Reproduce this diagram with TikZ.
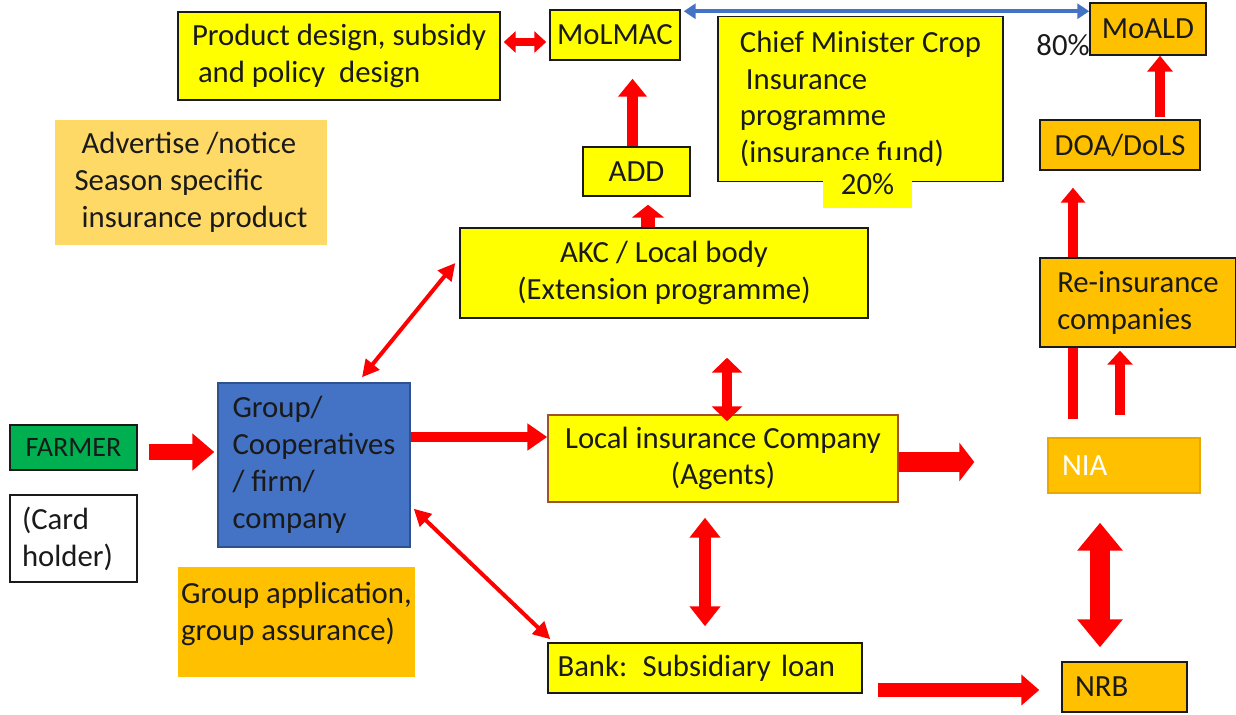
\documentclass[tikz,border=0pt]{standalone}
\usepackage{fontspec}
\setmainfont{Carlito}
\usetikzlibrary{positioning,calc,arrows.meta}

\definecolor{boxyellow}{HTML}{FFFF00}
\definecolor{boxorange}{HTML}{FFC000}
\definecolor{paleorange}{HTML}{FFD966}
\definecolor{boxblue}{HTML}{4472C4}
\definecolor{groupedge}{HTML}{2F528F}
\definecolor{boxgreen}{HTML}{00B050}
\definecolor{insedge}{HTML}{A0522D}
\definecolor{niaedge}{HTML}{E8A800}
\definecolor{flowred}{HTML}{FF0000}
\definecolor{linkblue}{HTML}{4472C4}
\definecolor{ink}{HTML}{1A1A1A}

\tikzset{
  box/.style={rectangle, inner sep=0pt, text=ink, line width=0.03cm,
    font=\fontsize{17.5}{21}\selectfont},
  ybox/.style={box, draw=ink, fill=boxyellow},
  obox/.style={box, draw=ink, fill=boxorange},
  thinflow/.style={flowred, line width=0.08cm,
    {Triangle[width=0.34cm,length=0.34cm]}-{Triangle[width=0.34cm,length=0.34cm]}}
}

\begin{document}
\begin{tikzpicture}[x=0.02cm, y=-0.02cm]
\useasboundingbox (0,0) rectangle (1236,715);

% top row
\node[ybox, minimum width=6.44cm, minimum height=1.76cm, align=left] (design) at (339,56) {Product design, subsidy\\\hspace*{0.12cm}and policy~~design};
\node[ybox, minimum width=2.6cm, minimum height=1cm] (MoLMAC) at (615,35) {MoLMAC};
\node[ybox, minimum width=5.7cm, minimum height=3.3cm, align=left] (CM) at (860.5,99) {Chief Minister Crop\\\hspace*{0.12cm}Insurance\\programme\\(insurance fund)};
\node[box, fill=boxyellow, minimum width=1.78cm, minimum height=0.96cm] (share20) at (867.5,184) {20\%};
\node[obox, minimum width=2.32cm, minimum height=1.04cm] (MoALD) at (1148,29) {MoALD};
\node[box] (share80) at (1063,45) {80\%};
\node[obox, minimum width=3.2cm, minimum height=1cm] (DOA) at (1120,145) {DOA/DoLS};
\node[ybox, minimum width=2.14cm, minimum height=0.98cm] (ADD) at (636.5,171.5) {ADD};
\node[box, fill=paleorange, minimum width=5.44cm, minimum height=2.5cm, align=left] (advert) at (191,182.5) {\hspace*{0.14cm}Advertise /notice\\Season specific\\\hspace*{0.14cm}insurance product};
\node[ybox, minimum width=8.16cm, minimum height=1.8cm, align=center] (AKC) at (664,273) {AKC / Local body\\(Extension programme)};

% middle row
\node[box, draw=groupedge, fill=boxblue, minimum width=3.84cm, minimum height=3.28cm, align=left] (group) at (314,465) {Group/\\Cooperatives\\/ firm/\\company};
\node[box, draw=ink, fill=boxgreen, minimum width=2.54cm, minimum height=0.9cm, font=\fontsize{16}{19}\selectfont] (farmer) at (73.5,447.5) {FARMER};
\node[box, draw=ink, fill=white, minimum width=2.54cm, minimum height=1.74cm, text width=2.06cm, align=left] (card) at (73.5,538.5) {(Card\\holder)};
\node[box, draw=insedge, fill=boxyellow, minimum width=7cm, minimum height=1.74cm, align=center] (insco) at (723,458.5) {Local insurance Company\\(Agents)};
\node[box, draw=niaedge, fill=boxorange, minimum width=3.04cm, minimum height=1.1cm, text width=2.48cm, align=left, text=white] (NIA) at (1124,465.5) {NIA};

% bottom row
\node[box, fill=boxorange, minimum width=4.74cm, minimum height=2.2cm, align=left] (grpapp) at (296.5,622) {Group application,\\group assurance)\\[-0.3cm]\mbox{}};
\node[ybox, minimum width=6.28cm, minimum height=1cm, text width=5.9cm, align=left] (bank) at (705,668) {Bank: Subsidiary loan};
\node[obox, minimum width=2.5cm, minimum height=1cm, text width=1.98cm, align=left] (NRB) at (1124.5,687) {NRB};

% long arrow runs behind the re-insurance box
\draw[flowred, line width=0.2cm, -{Triangle[width=0.48cm,length=0.3cm]}] ($(NIA.north)+(-51,-18)$) -- ($(DOA.south)+(-47,17)$);
\node[obox, minimum width=3.92cm, minimum height=1.78cm, align=left] (reins) at (1138,302.5) {Re-insurance\\companies};

% arrows
\draw[flowred, line width=0.16cm, {Triangle[width=0.42cm,length=0.24cm]}-{Triangle[width=0.42cm,length=0.24cm]}] ($(design.east |- MoLMAC.west)+(3,7)$) -- ($(MoLMAC.west)+(-3,7)$);
\draw[linkblue, line width=0.08cm, {Triangle[width=0.3cm,length=0.24cm]}-{Triangle[width=0.3cm,length=0.24cm]}] ($(MoLMAC.north east)+(3,2)$) -- ($(MoALD.west |- MoLMAC.north east)+(0,2)$);
\draw[flowred, line width=0.22cm, -{Triangle[width=0.56cm,length=0.36cm]}] ($(ADD.north)+(-4,0)$) -- ($(ADD.north |- MoLMAC.south)+(-4,18)$);
\draw[flowred, line width=0.28cm, -{Triangle[width=0.64cm,length=0.26cm]}] ($(AKC.north)+(-16,0)$) -- ($(AKC.north |- ADD.south)+(-16,8)$);
\draw[thinflow] ($(group.north)+(48,-5)$) -- ($(AKC.west)+(-4,-10)$);
\draw[flowred, line width=0.32cm, -{Triangle[width=0.72cm,length=0.44cm]}] ($(farmer.east)+(11,4.5)$) -- ($(farmer.east -| group.west)+(-3,4.5)$);
\draw[flowred, line width=0.2cm, -{Triangle[width=0.52cm,length=0.4cm]}] ($(group.east)+(0,-28)$) -- ($(group.east -| insco.west)+(0,-28)$);
\draw[flowred, line width=0.2cm, {Triangle[width=0.6cm,length=0.3cm]}-{Triangle[width=0.6cm,length=0.3cm]}] ($(insco.north |- AKC.south)+(4,39)$) -- ($(insco.north)+(4,7)$);
\draw[flowred, line width=0.4cm, -{Triangle[width=0.76cm,length=0.3cm]}] ($(insco.east)+(0,3.5)$) -- ($(NIA.west)+(-73,-3.5)$);
\draw[flowred, line width=0.2cm, -{Triangle[width=0.5cm,length=0.28cm]}] ($(NIA.north)+(-4,-22)$) -- ($(reins.south)+(-18,3)$);
\draw[flowred, line width=0.2cm, -{Triangle[width=0.5cm,length=0.32cm]}] ($(DOA.north)+(40,-2)$) -- ($(MoALD.south)+(12,0)$);
\draw[flowred, line width=0.24cm, {Triangle[width=0.6cm,length=0.4cm]}-{Triangle[width=0.6cm,length=0.4cm]}] ($(insco.south)+(-18,15)$) -- ($(bank.north)+(0,-16)$);
\draw[thinflow] ($(group.south east)+(3,-39)$) -- ($(bank.north west)+(3,-3)$);
\draw[flowred, line width=0.28cm, -{Triangle[width=0.6cm,length=0.36cm]}] ($(bank.east)+(15,22)$) -- ($(NRB.west)+(-22,3)$);
\draw[flowred, line width=0.4cm, {Triangle[width=0.88cm,length=0.56cm]}-{Triangle[width=0.88cm,length=0.56cm]}] ($(NIA.south)+(-24,29)$) -- ($(NRB.north)+(-24.5,-14)$);

\end{tikzpicture}
\end{document}
